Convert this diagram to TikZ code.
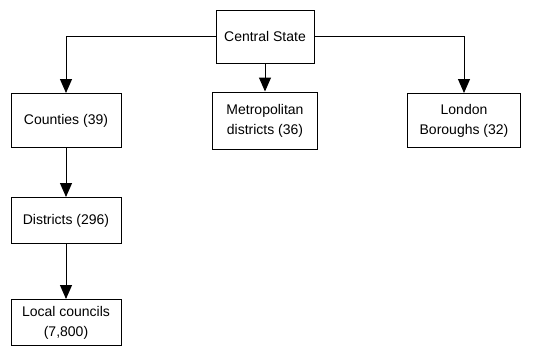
\documentclass[tikz,border=0pt]{standalone}
\usepackage{fontspec}
\setmainfont{Liberation Sans}
\usetikzlibrary{positioning,arrows.meta}

\begin{document}
\begin{tikzpicture}[level 1/.style={sibling distance=199pt,level distance=84pt},level 2/.style={level distance=100pt,edge from parent path={(\tikzparentnode.south) -- (\tikzchildnode.north)}},level 3/.style={level distance=102pt},every node/.style = {draw, align=center, shape=rectangle, line width=1pt, font=\fontsize{14}{20}\selectfont, minimum width=110pt, minimum height=54pt},edge from parent/.style={draw, line width=1pt, -{Triangle[width=12pt,length=14pt]}}]
\useasboundingbox (0,0) rectangle (556pt,-346pt);
\node(state) at (265pt,-36.5pt) [minimum width=98pt, minimum height=53pt] {Central State}
child[edge from parent path={(\tikzparentnode.west) -| (\tikzchildnode.north)}] { node(counties) {Counties (39)}
child { node(districts) [minimum height=46pt] {Districts (296)}
child { node(councils) [minimum height=46pt] {Local councils\\(7,800)} } } }
child { node(metro) [minimum width=105pt, minimum height=57pt] {Metropolitan\\districts (36)} }
child[edge from parent path={(\tikzparentnode.east) -| (\tikzchildnode.north)}] { node(london) [minimum width=113pt] {London\\Boroughs (32)} };
\end{tikzpicture}
\end{document}
